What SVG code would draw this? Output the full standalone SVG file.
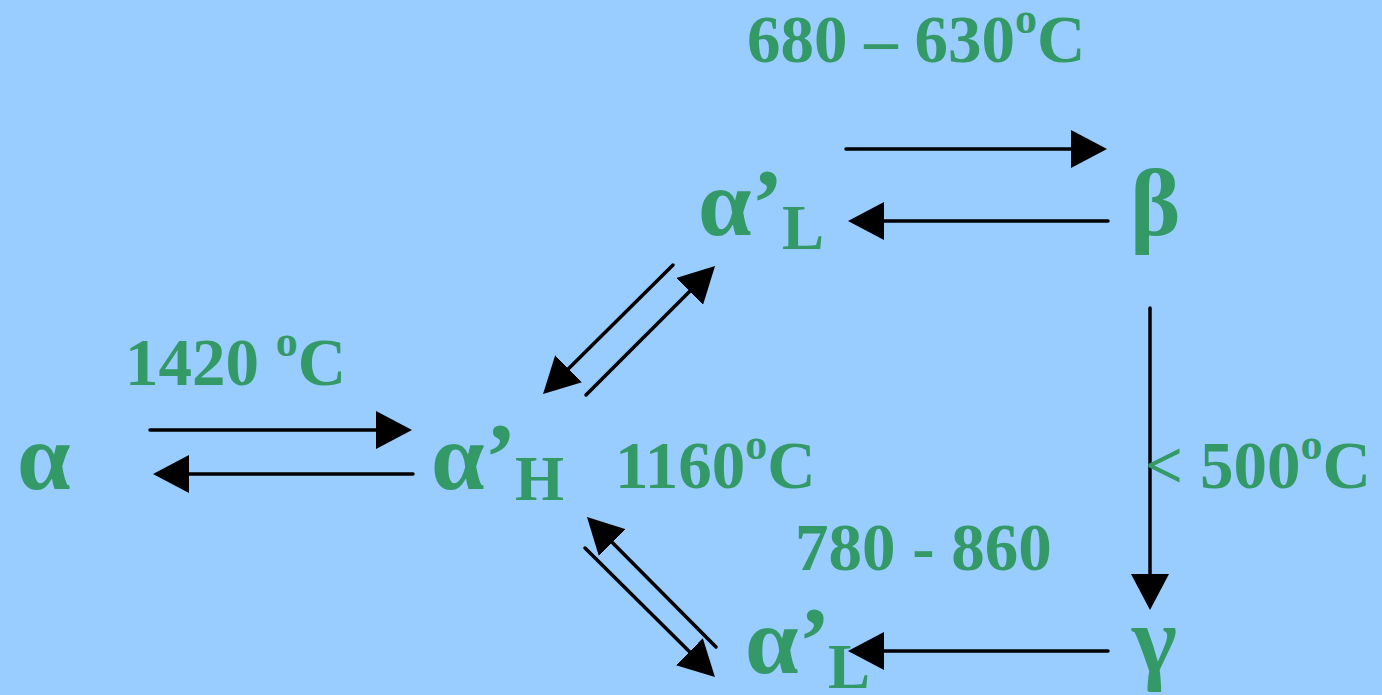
<svg xmlns="http://www.w3.org/2000/svg" width="1382" height="695" viewBox="0 0 1382 695">
<defs>
<style>
.t{font-family:"Liberation Serif","Times New Roman",serif;font-weight:bold;fill:#339966}
.g{font-size:96px}
.s{font-size:63px}
.n{font-size:67px}
.sup{font-size:44px}
.c{stroke:#000;stroke-width:3.5;stroke-linecap:round;fill:none;marker-end:url(#ah)}
</style>
<marker id="ah" viewBox="0 0 36 38" markerWidth="36" markerHeight="38" refX="30" refY="19" orient="auto" markerUnits="userSpaceOnUse">
<path d="M0,0 L36,19 L0,38 z" fill="#000"/>
</marker>
</defs>
<rect width="1382" height="695" fill="#99CCFF"/>
<g id="connectors">
<line class="c" x1="150" y1="430" x2="406" y2="430"/>
<line class="c" x1="413" y1="474" x2="159" y2="474"/>
<line class="c" x1="846" y1="149" x2="1101" y2="149"/>
<line class="c" x1="1108" y1="221" x2="854" y2="221"/>
<line class="c" x1="673" y1="265" x2="547.3" y2="389.8"/>
<line class="c" x1="586" y1="395" x2="710.8" y2="270.2"/>
<line class="c" x1="1150" y1="308" x2="1150" y2="604"/>
<line class="c" x1="1108" y1="651" x2="854" y2="651"/>
<line class="c" x1="716" y1="647" x2="591.2" y2="521.3"/>
<line class="c" x1="585" y1="548" x2="710.7" y2="672.8"/>
</g>
<g id="alpha">
<text class="t g" x="17" y="489">α</text>
</g>
<g id="alphaH">
<text class="t g" x="431" y="489">α’</text>
<text class="t s" x="515" y="500">H</text>
</g>
<g id="alphaL-upper">
<text class="t g" x="698" y="235">α’</text>
<text class="t s" x="782" y="249">L</text>
</g>
<g id="beta">
<text class="t g" x="1130" y="235">β</text>
</g>
<g id="gamma">
<text class="t g" x="1132" y="672">γ</text>
</g>
<g id="alphaL-lower">
<text class="t g" x="745" y="673">α’</text>
<text class="t s" x="828" y="688">L</text>
</g>
<g id="labels">
<text class="t n" x="747" y="62">680 – 630<tspan class="sup" dy="-29">o</tspan><tspan dy="29">C</tspan></text>
<text class="t n" x="125" y="385">1420 <tspan class="sup" dy="-29">o</tspan><tspan dy="29">C</tspan></text>
<text class="t n" x="615" y="488">1160<tspan class="sup" dy="-29">o</tspan><tspan dy="29">C</tspan></text>
<text class="t n" x="1145" y="488">&lt; 500<tspan class="sup" dy="-29">o</tspan><tspan dy="29">C</tspan></text>
<text class="t n" x="795" y="570">780 - 860</text>
</g>
</svg>
